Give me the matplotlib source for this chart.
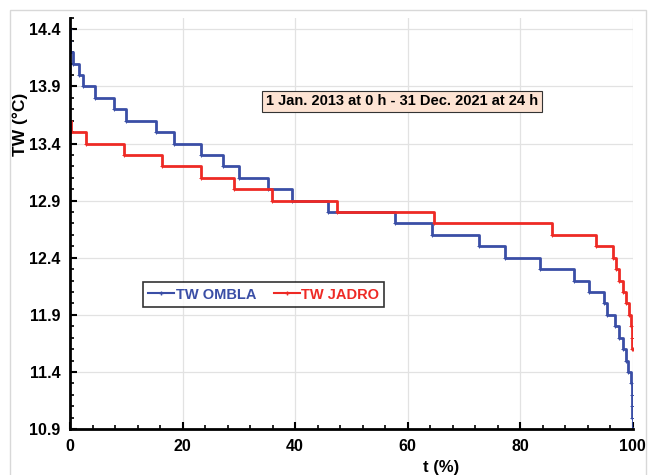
import numpy as np
import matplotlib.pyplot as plt
from matplotlib.lines import Line2D
from matplotlib.patches import Rectangle

plt.rcParams['font.family'] = ['Liberation Sans', 'DejaVu Sans']
plt.rcParams['font.weight'] = 'bold'

# duration curves: temperature level and the % of time where that level ends
ombla_tw = [14.4, 14.3, 14.2, 14.1, 14.0, 13.9, 13.8, 13.7, 13.6, 13.5, 13.4, 13.3,
            13.2, 13.1, 13.0, 12.9, 12.8, 12.7, 12.6, 12.5, 12.4, 12.3, 12.2, 12.1,
            12.0, 11.9, 11.8, 11.7, 11.6, 11.5, 11.4, 11.3, 11.2, 11.1, 11.0, 10.9]
ombla_t = [0.02, 0.05, 0.45, 1.6, 2.35, 4.5, 7.8, 10.0, 15.3, 18.5, 23.2, 27.1,
           30.0, 35.2, 39.5, 45.9, 57.8, 64.4, 72.7, 77.3, 83.5, 89.5, 92.2, 94.9,
           95.5, 96.8, 97.5, 98.2, 98.8, 99.2, 99.6, 99.8, 99.9, 99.95, 99.98, 100.0]

jadro_tw = [13.6, 13.5, 13.4, 13.3, 13.2, 13.1, 13.0, 12.9, 12.8, 12.7, 12.6, 12.5,
            12.4, 12.3, 12.2, 12.1, 12.0, 11.9, 11.8, 11.7, 11.6]
jadro_t = [0.1, 2.8, 9.5, 16.3, 23.2, 29.2, 35.9, 47.4, 64.6, 85.7, 93.5, 96.5,
           97.1, 97.6, 98.2, 98.8, 99.3, 99.6, 99.8, 99.9, 100.0]

blue = '#3a4ea6'
red = '#ee2a25'


def step_xy(t, tw):
    x = [0] + t[:-1] + [t[-1]]
    y = tw + [tw[-1]]
    return x, y


fig = plt.figure(figsize=(6.49, 4.75), dpi=100)
ax = fig.add_axes([0.108, 0.0968, 0.867, 0.8655])

# light frame around the whole chart
fig.patches.append(Rectangle((10 / 649, -0.05), 636 / 649, 1.05 - 10 / 475,
                             transform=fig.transFigure, fill=False,
                             edgecolor='#d8d8d8', linewidth=1))

x, y = step_xy(ombla_t, ombla_tw)
ax.step(x, y, where='post', color=blue, linewidth=2, marker='+', markersize=2.5,
        markeredgewidth=0.7)
x, y = step_xy(jadro_t, jadro_tw)
ax.step(x, y, where='post', color=red, linewidth=2, marker='+', markersize=2.5,
        markeredgewidth=0.7)

ax.set_xlim(0, 100)
ax.set_ylim(10.9, 14.5)
ax.set_xticks(np.arange(0, 101, 20))
ax.set_xticks(np.arange(0, 101, 4), minor=True)
ax.set_yticks(np.arange(10.9, 14.41, 0.5))
ax.set_yticks(np.arange(10.9, 14.51, 0.1), minor=True)
ax.set_yticklabels([f'{v:.1f}' for v in np.arange(10.9, 14.41, 0.5)])
ax.tick_params(which='major', direction='in', length=5, width=1.5, labelsize=11.5, pad=7)
ax.tick_params(which='minor', direction='in', length=3, width=1.2)
ax.grid(True, which='major', color='#e2e2e2', linewidth=0.9)
ax.set_axisbelow(True)

for s in ['top', 'right']:
    ax.spines[s].set_visible(False)
for s in ['left', 'bottom']:
    ax.spines[s].set_linewidth(2)

ax.set_xlabel('t (%)', fontsize=12, fontweight='bold')
ax.xaxis.set_label_coords(0.66, -0.075)
ax.set_ylabel('TW (°C)', fontsize=12.5, fontweight='bold')
ax.yaxis.set_label_coords(-0.075, 0.74)

ax.text(59, 13.77, '1 Jan. 2013 at 0 h - 31 Dec. 2021 at 24 h', fontsize=10.5,
        fontweight='bold', ha='center', va='center',
        bbox=dict(boxstyle='square,pad=0.25', facecolor='#fde3d3',
                  edgecolor='#333333', linewidth=0.8))

handles = [Line2D([], [], color=blue, linewidth=1.5, marker='+', markersize=3),
           Line2D([], [], color=red, linewidth=1.5, marker='+', markersize=3)]
leg = ax.legend(handles, ['TW OMBLA', 'TW JADRO'], ncol=2, loc='center',
                bbox_to_anchor=(0.344, 0.327), fontsize=10.5, frameon=True,
                fancybox=False, edgecolor='black', handlelength=1.8,
                handletextpad=0.1, columnspacing=1.2, borderpad=0.35)
leg.get_frame().set_linewidth(1.2)
for txt, c in zip(leg.get_texts(), [blue, red]):
    txt.set_color(c)
    txt.set_fontweight('bold')

fig.savefig('out.png', dpi=100)
